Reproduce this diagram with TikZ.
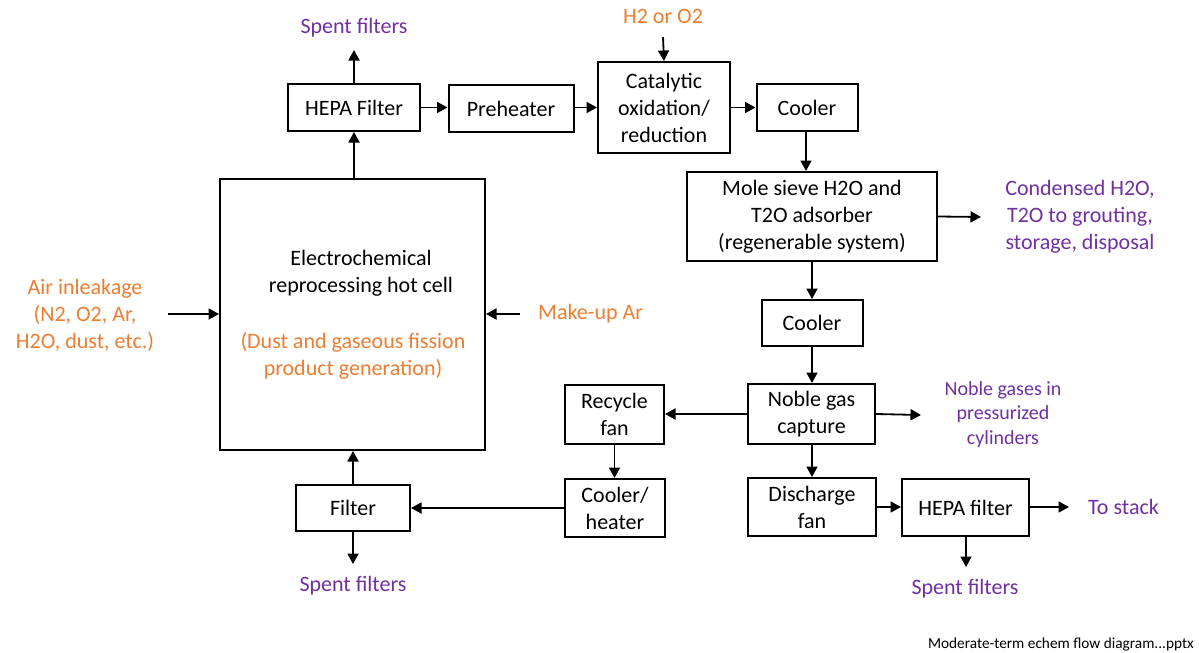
\documentclass[tikz,border=0pt]{standalone}
\usepackage{fontspec}
\setmainfont{Carlito}
\usetikzlibrary{arrows.meta}
\definecolor{ofcorange}{HTML}{ED7D31}
\definecolor{ofcpurple}{HTML}{7030A0}
\tikzset{
  box/.style={draw=black, line width=2pt, rectangle, inner sep=0pt, align=center,
    font=\fontsize{22}{27}\selectfont},
  lbl/.style={inner sep=0pt, align=center, font=\fontsize{22}{27}\selectfont},
  olbl/.style={lbl, text=ofcorange},
  plbl/.style={lbl, text=ofcpurple},
  flow/.style={line width=1.8pt, -{Triangle[length=10.5pt,width=11pt]}}
}
\begin{document}
\begin{tikzpicture}[x=1pt,y=-1pt]
\useasboundingbox (0,0) rectangle (1199,653);
% boxes
\node[box, minimum width=132pt, minimum height=47pt] (hepa1) at (354,107.5) {HEPA Filter};
\node[box, minimum width=125pt, minimum height=47pt] (pre) at (511,108.5) {Preheater};
\node[box, minimum width=132pt, minimum height=91pt] (cat) at (664,107.5) {Catalytic\\oxidation/\\reduction};
\node[box, minimum width=101pt, minimum height=47pt] (cool1) at (807,107.5) {Cooler};
\node[box, minimum width=250pt, minimum height=89pt] (mole) at (812,216.5) {Mole sieve H2O and\\T2O adsorber\\(regenerable system)};
\node[box, minimum width=101pt, minimum height=46pt] (cool2) at (812,323) {Cooler};
\node[box, minimum width=127pt, minimum height=60pt] (noble) at (811.5,414) {Noble gas\\capture};
\node[box, minimum width=99pt, minimum height=59pt] (recyc) at (614.5,414.5) {Recycle\\fan};
\node[box, minimum width=100pt, minimum height=58pt] (coolh) at (615,508) {Cooler/\\heater};
\node[box, minimum width=128pt, minimum height=58pt] (disch) at (812,507) {Discharge\\fan};
\node[box, minimum width=127pt, minimum height=57pt] (hepa2) at (965.5,507.5) {HEPA filter};
\node[box, minimum width=114pt, minimum height=46pt] (filter) at (353,508) {Filter};
\node[box, minimum width=265pt, minimum height=271pt] (electro) at (352.5,314.5) {};
\node[lbl] (etext) at (361,273.5) {Electrochemical\\reprocessing hot cell};
\node[olbl] (etext2) at (353,355.5) {(Dust and gaseous fission\\product generation)};
% labels
\node[plbl] (spent1) at (354,28) {Spent filters};
\node[plbl] (spent2) at (353,586) {Spent filters};
\node[plbl] (spent3) at (965,589) {Spent filters};
\node[olbl] (h2o2) at (663,16) {H2 or O2};
\node[olbl] (air) at (85,315) {Air inleakage\\(N2, O2, Ar,\\H2O, dust, etc.)};
\node[olbl, anchor=west] (makeup) at (538,314) {Make-up Ar};
\node[plbl] (cond) at (1080,217) {Condensed H2O,\\T2O to grouting,\\storage, disposal};
\node[plbl, font=\fontsize{20}{24.5}\selectfont] (ngas) at (1003,414.5) {Noble gases in\\pressurized\\cylinders};
\node[plbl, anchor=west] (stack) at (1088,507) {To stack};
\node[lbl, anchor=east, font=\fontsize{15.3}{17}\selectfont] (foot) at (1194,644) {Moderate-term echem flow diagram...pptx};
% free ends
\coordinate (sp1a) at (354,50);
\coordinate (h2a) at (663,37);
\coordinate (conda) at (981,217);
\coordinate (ngasa) at (921,415);
\coordinate (stacka) at (1069,507);
\coordinate (sp3a) at (966,567);
\coordinate (sp2a) at (353,564);
\coordinate (aira) at (168,314);
\coordinate (mka) at (520,314);
% connectors
\draw[flow] (electro.north -| hepa1.south) -- (hepa1.south);
\draw[flow] (hepa1.north) -- (sp1a);
\draw[flow] (hepa1.east) -- (hepa1.east -| pre.west);
\draw[flow] (pre.east |- cat.west) -- (cat.west);
\draw[flow] (h2a) -- (cat.north);
\draw[flow] (cat.east |- cool1.west) -- (cool1.west);
\draw[flow] (cool1.south -| 806,0) -- (mole.north -| 806,0);
\draw[flow] (mole.east) -- (conda);
\draw[flow] (mole.south) -- (cool2.north);
\draw[flow] (cool2.south) -- (noble.north -| cool2.south);
\draw[flow] (noble.west) -- (noble.west -| recyc.east);
\draw[flow] (noble.east) -- (ngasa);
\draw[flow] (noble.south -| disch.north) -- (disch.north);
\draw[flow] (disch.east) -- (disch.east -| hepa2.west);
\draw[flow] (hepa2.east |- stacka) -- (stacka);
\draw[flow] (hepa2.south -| sp3a) -- (sp3a);
\draw[flow] (recyc.south) -- (recyc.south |- coolh.north);
\draw[flow] (coolh.west) -- (coolh.west -| filter.east);
\draw[flow] (filter.north) -- (filter.north |- electro.south);
\draw[flow] (filter.south) -- (sp2a);
\draw[flow] (aira) -- (aira -| electro.west);
\draw[flow] (mka) -- (mka -| electro.east);
\end{tikzpicture}
\end{document}
